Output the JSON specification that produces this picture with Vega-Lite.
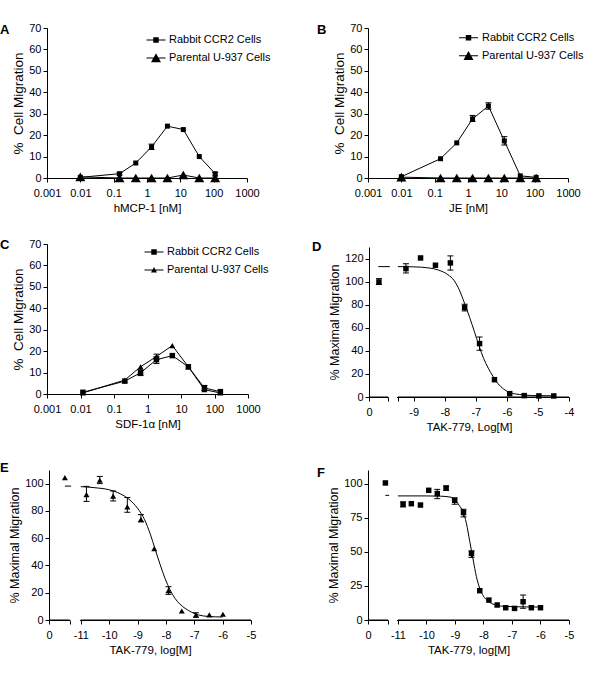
{
  "$schema": "https://vega.github.io/schema/vega-lite/v6.json",
  "autosize": {"type": "none"},
  "padding": {"left": 47, "top": 28, "right": 553, "bottom": 659},
  "background": "white",
  "config": {
    "view": {"stroke": null},
    "font": "Liberation Sans",
    "axis": {"grid": false, "domainColor": "#000", "tickColor": "#000", "labelColor": "#000", "titleColor": "#000", "labelFont": "Liberation Sans", "titleFont": "Liberation Sans", "labelFontSize": 11, "titleFontWeight": "normal", "tickSize": 4, "labelFlush": false, "labelOverlap": false, "labelBound": false},
    "axisX": {"labelPadding": 5, "titlePadding": 4, "titleFontSize": 11.5},
    "axisY": {"labelPadding": 2, "titlePadding": 3, "titleFontSize": 12.5},
    "legend": {"orient": "none", "labelFont": "Liberation Sans", "labelFontSize": 11, "labelColor": "#000", "padding": 0, "rowPadding": 6, "symbolSize": 100, "symbolStrokeWidth": 0, "symbolFillColor": "#000", "symbolOpacity": 1},
    "title": {"font": "Liberation Sans", "fontSize": 13, "fontWeight": "bold", "color": "#000", "anchor": "start", "frame": "group", "offset": 0, "baseline": "alphabetic"}
  },
  "datasets": {
    "A": [
      {"conc": 0.01, "pct": 0.3, "series": "Rabbit CCR2 Cells"},
      {"conc": 0.15, "pct": 2.0, "series": "Rabbit CCR2 Cells", "lo": 1.4, "hi": 2.6},
      {"conc": 0.46, "pct": 7.0, "series": "Rabbit CCR2 Cells"},
      {"conc": 1.37, "pct": 14.5, "series": "Rabbit CCR2 Cells", "lo": 13.3, "hi": 15.8},
      {"conc": 4.1, "pct": 24.2, "series": "Rabbit CCR2 Cells"},
      {"conc": 12.3, "pct": 22.6, "series": "Rabbit CCR2 Cells"},
      {"conc": 37, "pct": 10.0, "series": "Rabbit CCR2 Cells"},
      {"conc": 111, "pct": 2.0, "series": "Rabbit CCR2 Cells", "lo": 0.9, "hi": 2.6},
      {"conc": 0.01, "pct": 0.5, "series": "Parental U-937 Cells"},
      {"conc": 0.15, "pct": 0, "series": "Parental U-937 Cells"},
      {"conc": 0.46, "pct": 0, "series": "Parental U-937 Cells"},
      {"conc": 1.37, "pct": 0, "series": "Parental U-937 Cells"},
      {"conc": 4.1, "pct": 0, "series": "Parental U-937 Cells"},
      {"conc": 12.3, "pct": 1.4, "series": "Parental U-937 Cells"},
      {"conc": 37, "pct": 0, "series": "Parental U-937 Cells"},
      {"conc": 111, "pct": 0, "series": "Parental U-937 Cells"}
    ],
    "B": [
      {"conc": 0.01, "pct": 0.6, "series": "Rabbit CCR2 Cells"},
      {"conc": 0.15, "pct": 9.0, "series": "Rabbit CCR2 Cells"},
      {"conc": 0.46, "pct": 16.4, "series": "Rabbit CCR2 Cells"},
      {"conc": 1.37, "pct": 27.6, "series": "Rabbit CCR2 Cells", "lo": 26.4, "hi": 29.2},
      {"conc": 4.1, "pct": 33.6, "series": "Rabbit CCR2 Cells", "lo": 32.1, "hi": 35.1},
      {"conc": 12.3, "pct": 17.3, "series": "Rabbit CCR2 Cells", "lo": 15.4, "hi": 19.3},
      {"conc": 37, "pct": 1.0, "series": "Rabbit CCR2 Cells"},
      {"conc": 111, "pct": 0.3, "series": "Rabbit CCR2 Cells"},
      {"conc": 0.01, "pct": 0.4, "series": "Parental U-937 Cells"},
      {"conc": 0.15, "pct": 0, "series": "Parental U-937 Cells"},
      {"conc": 0.46, "pct": 0, "series": "Parental U-937 Cells"},
      {"conc": 1.37, "pct": 0, "series": "Parental U-937 Cells"},
      {"conc": 4.1, "pct": 0, "series": "Parental U-937 Cells"},
      {"conc": 12.3, "pct": 0, "series": "Parental U-937 Cells"},
      {"conc": 37, "pct": 0, "series": "Parental U-937 Cells"},
      {"conc": 111, "pct": 0, "series": "Parental U-937 Cells"}
    ],
    "C": [
      {"conc": 0.0118, "pct": 0.8, "series": "Rabbit CCR2 Cells"},
      {"conc": 0.21, "pct": 6.0, "series": "Rabbit CCR2 Cells"},
      {"conc": 0.62, "pct": 9.9, "series": "Rabbit CCR2 Cells", "lo": 8.6, "hi": 11.3},
      {"conc": 1.85, "pct": 16.0, "series": "Rabbit CCR2 Cells", "lo": 14.2, "hi": 17.4},
      {"conc": 5.5, "pct": 17.9, "series": "Rabbit CCR2 Cells"},
      {"conc": 16.6, "pct": 12.7, "series": "Rabbit CCR2 Cells"},
      {"conc": 50, "pct": 2.8, "series": "Rabbit CCR2 Cells", "lo": 1.6, "hi": 4.0},
      {"conc": 150, "pct": 1.1, "series": "Rabbit CCR2 Cells"},
      {"conc": 0.0118, "pct": 0.5, "series": "Parental U-937 Cells"},
      {"conc": 0.21, "pct": 6.5, "series": "Parental U-937 Cells"},
      {"conc": 0.62, "pct": 12.7, "series": "Parental U-937 Cells"},
      {"conc": 1.85, "pct": 17.5, "series": "Parental U-937 Cells", "lo": 16.2, "hi": 18.6},
      {"conc": 5.5, "pct": 22.6, "series": "Parental U-937 Cells"},
      {"conc": 16.6, "pct": 12.7, "series": "Parental U-937 Cells"},
      {"conc": 50, "pct": 2.0, "series": "Parental U-937 Cells"},
      {"conc": 150, "pct": 0.5, "series": "Parental U-937 Cells"}
    ],
    "D": [
      {"x": -10.12, "y": 99.7, "lo": 97.5, "hi": 102.6},
      {"x": -9.25, "y": 111.3, "lo": 107.5, "hi": 115.5},
      {"x": -8.78, "y": 120.5},
      {"x": -8.30, "y": 114.2},
      {"x": -7.82, "y": 116.2, "lo": 110, "hi": 122.3},
      {"x": -7.36, "y": 77.5, "lo": 74.6, "hi": 80.4},
      {"x": -6.88, "y": 46.3, "lo": 40.5, "hi": 52},
      {"x": -6.40, "y": 15.0},
      {"x": -5.91, "y": 2.9},
      {"x": -5.44, "y": 1.2},
      {"x": -4.97, "y": 0.9},
      {"x": -4.49, "y": 0.9}
    ],
    "Dcurve": [
      {"x": -9.51, "y": 113.0}, {"x": -9.0, "y": 112.8}, {"x": -8.5, "y": 111.8}, {"x": -8.2, "y": 110.0},
      {"x": -7.9, "y": 106.0}, {"x": -7.7, "y": 101.0}, {"x": -7.57, "y": 95.0}, {"x": -7.36, "y": 81.0},
      {"x": -7.2, "y": 69.0}, {"x": -7.05, "y": 57.0}, {"x": -6.9, "y": 44.5}, {"x": -6.75, "y": 33.5},
      {"x": -6.6, "y": 25.0}, {"x": -6.45, "y": 18.0}, {"x": -6.3, "y": 12.0}, {"x": -6.1, "y": 6.8},
      {"x": -5.9, "y": 3.8}, {"x": -5.6, "y": 2.2}, {"x": -5.2, "y": 1.3}, {"x": -4.49, "y": 1.0}
    ],
    "Daxis": [
      {"seg": "a", "x": -10.44, "y": 0}, {"seg": "a", "x": -9.83, "y": 0},
      {"seg": "b", "x": -9.51, "y": 0}, {"seg": "b", "x": -4, "y": 0},
      {"seg": "c", "x": -10.14, "y": 113}, {"seg": "c", "x": -9.77, "y": 113}
    ],
    "Dgap": [{"from": -9.80, "to": -9.54, "at": 0}],
    "E": [
      {"x": -11.56, "y": 104.4},
      {"x": -10.80, "y": 92, "lo": 87, "hi": 98},
      {"x": -10.33, "y": 102.5, "lo": 100, "hi": 105.3},
      {"x": -9.86, "y": 90.9, "lo": 87.3, "hi": 94.6},
      {"x": -9.36, "y": 83, "lo": 79, "hi": 89.8},
      {"x": -8.88, "y": 73.7, "lo": 71.9, "hi": 77.3},
      {"x": -8.41, "y": 52.4},
      {"x": -7.91, "y": 21.5, "lo": 18.8, "hi": 24.4},
      {"x": -7.44, "y": 6.6},
      {"x": -6.94, "y": 3.7, "lo": 2, "hi": 5.3},
      {"x": -6.47, "y": 3.7},
      {"x": -5.99, "y": 4.2}
    ],
    "Ecurve": [
      {"x": -11.0, "y": 97.8}, {"x": -10.5, "y": 97.0}, {"x": -10.0, "y": 95.5}, {"x": -9.6, "y": 92.5},
      {"x": -9.3, "y": 88.5}, {"x": -9.0, "y": 82.0}, {"x": -8.75, "y": 73.5}, {"x": -8.55, "y": 63.0},
      {"x": -8.38, "y": 52.0}, {"x": -8.2, "y": 40.5}, {"x": -8.03, "y": 30.5}, {"x": -7.85, "y": 22.0},
      {"x": -7.68, "y": 15.9}, {"x": -7.5, "y": 11.5}, {"x": -7.32, "y": 8.5}, {"x": -7.1, "y": 5.8},
      {"x": -6.85, "y": 3.7}, {"x": -6.5, "y": 2.6}, {"x": -6.0, "y": 2.2}
    ],
    "Eaxis": [
      {"seg": "a", "x": -12.12, "y": 0}, {"seg": "a", "x": -11.39, "y": 0},
      {"seg": "b", "x": -11, "y": 0}, {"seg": "b", "x": -5, "y": 0},
      {"seg": "c", "x": -11.56, "y": 98.2}, {"seg": "c", "x": -11.34, "y": 98.2}
    ],
    "Egap": [{"from": -11.36, "to": -11.03, "at": 0}],
    "F": [
      {"x": -11.44, "y": 100.5},
      {"x": -10.82, "y": 84.9, "lo": 82.9, "hi": 86.6},
      {"x": -10.53, "y": 85.3},
      {"x": -10.21, "y": 84.3},
      {"x": -9.92, "y": 95.1},
      {"x": -9.62, "y": 92.7, "lo": 89, "hi": 95.8},
      {"x": -9.31, "y": 96.8, "lo": 95.1, "hi": 98.2},
      {"x": -9.01, "y": 87.8, "lo": 84.9, "hi": 89.5},
      {"x": -8.70, "y": 78.8, "lo": 75.6, "hi": 81.2},
      {"x": -8.42, "y": 48.8, "lo": 45.9, "hi": 50.7},
      {"x": -8.13, "y": 21.5},
      {"x": -7.81, "y": 14.6},
      {"x": -7.52, "y": 11.0},
      {"x": -7.22, "y": 9.0},
      {"x": -6.91, "y": 8.5},
      {"x": -6.61, "y": 13.4, "lo": 8.6, "hi": 18.3},
      {"x": -6.32, "y": 9.0},
      {"x": -6.00, "y": 9.0}
    ],
    "Fcurve": [
      {"x": -11.0, "y": 91.0}, {"x": -10.0, "y": 91.0}, {"x": -9.5, "y": 90.8}, {"x": -9.13, "y": 90.0},
      {"x": -8.95, "y": 87.0}, {"x": -8.85, "y": 84.0}, {"x": -8.72, "y": 79.5}, {"x": -8.6, "y": 71.0},
      {"x": -8.48, "y": 57.5}, {"x": -8.36, "y": 44.0}, {"x": -8.25, "y": 32.0}, {"x": -8.13, "y": 23.2},
      {"x": -8.0, "y": 17.5}, {"x": -7.85, "y": 14.0}, {"x": -7.72, "y": 12.2}, {"x": -7.5, "y": 10.5},
      {"x": -7.25, "y": 10.0}, {"x": -6.5, "y": 9.6}, {"x": -6.0, "y": 9.5}
    ],
    "Faxis": [
      {"seg": "a", "x": -12.05, "y": 0}, {"seg": "a", "x": -11.35, "y": 0},
      {"seg": "b", "x": -11, "y": 0}, {"seg": "b", "x": -5, "y": 0},
      {"seg": "c", "x": -11.44, "y": 91.4}, {"seg": "c", "x": -11.31, "y": 91.4}
    ],
    "Fgap": [{"from": -11.32, "to": -11.03, "at": 0}]
  },
  "columns": 2,
  "spacing": {"row": 60, "column": 116},
  "bounds": "flush",
  "align": "each",
  "resolve": {"scale": {"x": "independent", "y": "independent", "shape": "independent"}, "axis": {"x": "independent", "y": "independent"}, "legend": {"shape": "independent"}},
  "concat": [
    {
      "width": 205, "height": 156,
      "title": {"text": "A", "dx": -47, "dy": 19},
      "data": {"name": "A"},
      "encoding": {
        "x": {"field": "conc", "type": "quantitative", "scale": {"type": "log", "domain": [0.001, 1000], "range": [0, 200], "nice": false}, "axis": {"values": [0.001, 0.01, 0.1, 1, 10, 100, 1000], "format": "~g", "title": "hMCP-1 [nM]", "offset": -6}},
        "y": {"field": "pct", "type": "quantitative", "scale": {"domain": [0, 70], "range": [150, 0], "nice": false}, "axis": {"values": [0, 10, 20, 30, 40, 50, 60, 70], "title": "%\u00a0 Cell Migration", "titleFontSize": 13.5}}
      },
      "layer": [
        {"transform": [{"filter": "false"}], "mark": {"type": "point", "filled": true, "color": "#000", "opacity": 1},
         "encoding": {"shape": {"field": "series", "type": "nominal", "scale": {"domain": ["Rabbit CCR2 Cells", "Parental U-937 Cells"], "range": ["M-1.9,-0.1L1.9,-0.1L1.9,0.1L-1.9,0.1Z M-0.55,-0.55L0.55,-0.55L0.55,0.55L-0.55,0.55Z", "M-1.9,-0.1L1.9,-0.1L1.9,0.1L-1.9,0.1Z M-1,0.85L0,-0.95L1,0.85Z"]}, "legend": {"title": null, "legendX": 103.5, "legendY": 6.5, "labelOffset": 7.5}}}},
        {"mark": {"type": "line", "color": "#000", "strokeWidth": 1}, "encoding": {"detail": {"field": "series"}}},
        {"transform": [{"filter": "isValid(datum.lo)"}], "mark": {"type": "rule", "color": "#000"}, "encoding": {"y": {"field": "lo", "type": "quantitative", "title": "%\u00a0 Cell Migration"}, "y2": {"field": "hi"}}},
        {"transform": [{"filter": "isValid(datum.lo)"}], "mark": {"type": "tick", "orient": "horizontal", "color": "#000", "size": 6, "thickness": 1, "opacity": 1}, "encoding": {"y": {"field": "lo", "type": "quantitative", "title": "%\u00a0 Cell Migration"}}},
        {"transform": [{"filter": "isValid(datum.hi)"}], "mark": {"type": "tick", "orient": "horizontal", "color": "#000", "size": 6, "thickness": 1, "opacity": 1}, "encoding": {"y": {"field": "hi", "type": "quantitative", "title": "%\u00a0 Cell Migration"}}},
        {"transform": [{"filter": "datum.series == 'Rabbit CCR2 Cells'"}], "mark": {"type": "square", "filled": true, "color": "#000", "size": 25, "opacity": 1}},
        {"transform": [{"filter": "datum.series == 'Parental U-937 Cells'"}], "mark": {"type": "point", "shape": "triangle-up", "filled": true, "color": "#000", "size": 100, "opacity": 1}}
      ]
    },
    {
      "width": 201, "height": 156,
      "title": {"text": "B", "dx": -51, "dy": 19},
      "data": {"name": "B"},
      "encoding": {
        "x": {"field": "conc", "type": "quantitative", "scale": {"type": "log", "domain": [0.001, 1000], "range": [0, 200], "nice": false}, "axis": {"values": [0.001, 0.01, 0.1, 1, 10, 100, 1000], "format": "~g", "title": "JE [nM]", "offset": -6}},
        "y": {"field": "pct", "type": "quantitative", "scale": {"domain": [0, 70], "range": [150, 0], "nice": false}, "axis": {"values": [0, 10, 20, 30, 40, 50, 60, 70], "title": "%\u00a0 Cell Migration", "titleFontSize": 13.5}}
      },
      "layer": [
        {"transform": [{"filter": "false"}], "mark": {"type": "point", "filled": true, "color": "#000", "opacity": 1},
         "encoding": {"shape": {"field": "series", "type": "nominal", "scale": {"domain": ["Rabbit CCR2 Cells", "Parental U-937 Cells"], "range": ["M-1.9,-0.1L1.9,-0.1L1.9,0.1L-1.9,0.1Z M-0.55,-0.55L0.55,-0.55L0.55,0.55L-0.55,0.55Z", "M-1.9,-0.1L1.9,-0.1L1.9,0.1L-1.9,0.1Z M-1,0.85L0,-0.95L1,0.85Z"]}, "legend": {"title": null, "legendX": 95, "legendY": 4.2, "labelOffset": 8}}}},
        {"mark": {"type": "line", "color": "#000", "strokeWidth": 1}, "encoding": {"detail": {"field": "series"}}},
        {"transform": [{"filter": "isValid(datum.lo)"}], "mark": {"type": "rule", "color": "#000"}, "encoding": {"y": {"field": "lo", "type": "quantitative", "title": "%\u00a0 Cell Migration"}, "y2": {"field": "hi"}}},
        {"transform": [{"filter": "isValid(datum.lo)"}], "mark": {"type": "tick", "orient": "horizontal", "color": "#000", "size": 6, "thickness": 1, "opacity": 1}, "encoding": {"y": {"field": "lo", "type": "quantitative", "title": "%\u00a0 Cell Migration"}}},
        {"transform": [{"filter": "isValid(datum.hi)"}], "mark": {"type": "tick", "orient": "horizontal", "color": "#000", "size": 6, "thickness": 1, "opacity": 1}, "encoding": {"y": {"field": "hi", "type": "quantitative", "title": "%\u00a0 Cell Migration"}}},
        {"transform": [{"filter": "datum.series == 'Rabbit CCR2 Cells'"}], "mark": {"type": "square", "filled": true, "color": "#000", "size": 25, "opacity": 1}},
        {"transform": [{"filter": "datum.series == 'Parental U-937 Cells'"}], "mark": {"type": "point", "shape": "triangle-up", "filled": true, "color": "#000", "size": 100, "opacity": 1}}
      ]
    },
    {
      "width": 205, "height": 166,
      "title": {"text": "C", "dx": -47, "dy": 18},
      "data": {"name": "C"},
      "encoding": {
        "x": {"field": "conc", "type": "quantitative", "scale": {"type": "log", "domain": [0.001, 1000], "range": [0, 201], "nice": false}, "axis": {"values": [0.001, 0.01, 0.1, 1, 10, 100, 1000], "format": "~g", "title": "SDF-1\u03b1 [nM]", "offset": -16}},
        "y": {"field": "pct", "type": "quantitative", "scale": {"domain": [0, 70], "range": [150, 0], "nice": false}, "axis": {"values": [0, 10, 20, 30, 40, 50, 60, 70], "title": "%\u00a0 Cell Migration", "titleFontSize": 13.5}}
      },
      "layer": [
        {"transform": [{"filter": "false"}], "mark": {"type": "point", "filled": true, "color": "#000", "opacity": 1},
         "encoding": {"shape": {"field": "series", "type": "nominal", "scale": {"domain": ["Rabbit CCR2 Cells", "Parental U-937 Cells"], "range": ["M-1.9,-0.1L1.9,-0.1L1.9,0.1L-1.9,0.1Z M-0.55,-0.55L0.55,-0.55L0.55,0.55L-0.55,0.55Z", "M-1.9,-0.1L1.9,-0.1L1.9,0.1L-1.9,0.1Z M-0.6,0.5L0,-0.6L0.6,0.5Z"]}, "legend": {"title": null, "legendX": 101.5, "legendY": 2.5, "labelOffset": 7.5}}}},
        {"mark": {"type": "line", "color": "#000", "strokeWidth": 1}, "encoding": {"detail": {"field": "series"}}},
        {"transform": [{"filter": "isValid(datum.lo)"}], "mark": {"type": "rule", "color": "#000"}, "encoding": {"y": {"field": "lo", "type": "quantitative", "title": "%\u00a0 Cell Migration"}, "y2": {"field": "hi"}}},
        {"transform": [{"filter": "isValid(datum.lo)"}], "mark": {"type": "tick", "orient": "horizontal", "color": "#000", "size": 6, "thickness": 1, "opacity": 1}, "encoding": {"y": {"field": "lo", "type": "quantitative", "title": "%\u00a0 Cell Migration"}}},
        {"transform": [{"filter": "isValid(datum.hi)"}], "mark": {"type": "tick", "orient": "horizontal", "color": "#000", "size": 6, "thickness": 1, "opacity": 1}, "encoding": {"y": {"field": "hi", "type": "quantitative", "title": "%\u00a0 Cell Migration"}}},
        {"transform": [{"filter": "datum.series == 'Rabbit CCR2 Cells'"}], "mark": {"type": "square", "filled": true, "color": "#000", "size": 30, "opacity": 1}},
        {"transform": [{"filter": "datum.series == 'Parental U-937 Cells'"}], "mark": {"type": "point", "shape": "triangle-up", "filled": true, "color": "#000", "size": 36, "opacity": 1}}
      ]
    },
    {
      "width": 201, "height": 166,
      "title": {"text": "D", "dx": -56, "dy": 14},
      "encoding": {
        "x": {"field": "x", "type": "quantitative", "scale": {"domain": [-10.44, -4], "range": [1, 201], "nice": false, "zero": false}, "axis": {"values": [-10.44, -9.83, -9.51, -9, -8, -7, -6, -5, -4], "labelExpr": "datum.value < -10 ? '0' : (datum.value % 1 == 0 ? '-' + abs(datum.value) : '')", "domain": true, "title": "TAK-779, Log[M]", "offset": -13}},
        "y": {"field": "y", "type": "quantitative", "scale": {"domain": [0, 130], "range": [153, 3], "nice": false}, "axis": {"values": [0, 20, 40, 60, 80, 100, 120], "title": "% Maximal Migration", "offset": -1}}
      },
      "layer": [
        {"data": {"name": "Daxis"}, "mark": {"type": "line", "color": "#000", "strokeWidth": 1}, "encoding": {"detail": {"field": "seg"}}},
        {"data": {"name": "Dgap"}, "mark": {"type": "rule", "color": "#fff", "strokeWidth": 3}, "encoding": {"x": {"field": "from", "type": "quantitative", "title": "TAK-779, Log[M]"}, "x2": {"field": "to"}, "y": {"field": "at", "type": "quantitative", "title": "% Maximal Migration"}}},
        {"data": {"name": "Dcurve"}, "mark": {"type": "line", "color": "#000", "strokeWidth": 1, "interpolate": "monotone"}},
        {"data": {"name": "D"}, "transform": [{"filter": "isValid(datum.lo)"}], "mark": {"type": "rule", "color": "#000"}, "encoding": {"y": {"field": "lo", "type": "quantitative", "title": "% Maximal Migration"}, "y2": {"field": "hi"}}},
        {"data": {"name": "D"}, "transform": [{"filter": "isValid(datum.lo)"}], "mark": {"type": "tick", "orient": "horizontal", "color": "#000", "size": 6, "thickness": 1, "opacity": 1}, "encoding": {"y": {"field": "lo", "type": "quantitative", "title": "% Maximal Migration"}}},
        {"data": {"name": "D"}, "transform": [{"filter": "isValid(datum.hi)"}], "mark": {"type": "tick", "orient": "horizontal", "color": "#000", "size": 6, "thickness": 1, "opacity": 1}, "encoding": {"y": {"field": "hi", "type": "quantitative", "title": "% Maximal Migration"}}},
        {"data": {"name": "D"}, "mark": {"type": "square", "filled": true, "color": "#000", "size": 30, "opacity": 1}}
      ]
    },
    {
      "width": 205, "height": 150,
      "title": {"text": "E", "dx": -47, "dy": 9},
      "encoding": {
        "x": {"field": "x", "type": "quantitative", "scale": {"domain": [-12.12, -5], "range": [2, 204], "nice": false, "zero": false}, "axis": {"values": [-12.12, -11.39, -11, -10, -9, -8, -7, -6, -5], "labelExpr": "datum.value < -11.5 ? '0' : (datum.value % 1 == 0 ? '-' + abs(datum.value) : '')", "domain": true, "title": "TAK-779, log[M]"}},
        "y": {"field": "y", "type": "quantitative", "scale": {"domain": [0, 110], "range": [150, 0], "nice": false}, "axis": {"values": [0, 20, 40, 60, 80, 100], "title": "% Maximal Migration", "offset": -2}}
      },
      "layer": [
        {"data": {"name": "Eaxis"}, "mark": {"type": "line", "color": "#000", "strokeWidth": 1}, "encoding": {"detail": {"field": "seg"}}},
        {"data": {"name": "Egap"}, "mark": {"type": "rule", "color": "#fff", "strokeWidth": 3}, "encoding": {"x": {"field": "from", "type": "quantitative", "title": "TAK-779, log[M]"}, "x2": {"field": "to"}, "y": {"field": "at", "type": "quantitative", "title": "% Maximal Migration"}}},
        {"data": {"name": "Ecurve"}, "mark": {"type": "line", "color": "#000", "strokeWidth": 1, "interpolate": "monotone"}},
        {"data": {"name": "E"}, "transform": [{"filter": "isValid(datum.lo)"}], "mark": {"type": "rule", "color": "#000"}, "encoding": {"y": {"field": "lo", "type": "quantitative", "title": "% Maximal Migration"}, "y2": {"field": "hi"}}},
        {"data": {"name": "E"}, "transform": [{"filter": "isValid(datum.lo)"}], "mark": {"type": "tick", "orient": "horizontal", "color": "#000", "size": 6, "thickness": 1, "opacity": 1}, "encoding": {"y": {"field": "lo", "type": "quantitative", "title": "% Maximal Migration"}}},
        {"data": {"name": "E"}, "transform": [{"filter": "isValid(datum.hi)"}], "mark": {"type": "tick", "orient": "horizontal", "color": "#000", "size": 6, "thickness": 1, "opacity": 1}, "encoding": {"y": {"field": "hi", "type": "quantitative", "title": "% Maximal Migration"}}},
        {"data": {"name": "E"}, "mark": {"type": "point", "shape": "triangle-up", "filled": true, "color": "#000", "size": 36, "opacity": 1}}
      ]
    },
    {
      "width": 201, "height": 150,
      "title": {"text": "F", "dx": -51, "dy": 14},
      "encoding": {
        "x": {"field": "x", "type": "quantitative", "scale": {"domain": [-12.05, -5], "range": [0, 201], "nice": false, "zero": false}, "axis": {"values": [-12.05, -11.35, -11, -10, -9, -8, -7, -6, -5], "labelExpr": "datum.value < -11.5 ? '0' : (datum.value % 1 == 0 ? '-' + abs(datum.value) : '')", "domain": true, "title": "TAK-779, log[M]"}},
        "y": {"field": "y", "type": "quantitative", "scale": {"domain": [0, 110], "range": [150, 0], "nice": false}, "axis": {"values": [0, 25, 50, 75, 100], "title": "% Maximal Migration"}}
      },
      "layer": [
        {"data": {"name": "Faxis"}, "mark": {"type": "line", "color": "#000", "strokeWidth": 1}, "encoding": {"detail": {"field": "seg"}}},
        {"data": {"name": "Fgap"}, "mark": {"type": "rule", "color": "#fff", "strokeWidth": 3}, "encoding": {"x": {"field": "from", "type": "quantitative", "title": "TAK-779, log[M]"}, "x2": {"field": "to"}, "y": {"field": "at", "type": "quantitative", "title": "% Maximal Migration"}}},
        {"data": {"name": "Fcurve"}, "mark": {"type": "line", "color": "#000", "strokeWidth": 1, "interpolate": "monotone"}},
        {"data": {"name": "F"}, "transform": [{"filter": "isValid(datum.lo)"}], "mark": {"type": "rule", "color": "#000"}, "encoding": {"y": {"field": "lo", "type": "quantitative", "title": "% Maximal Migration"}, "y2": {"field": "hi"}}},
        {"data": {"name": "F"}, "transform": [{"filter": "isValid(datum.lo)"}], "mark": {"type": "tick", "orient": "horizontal", "color": "#000", "size": 6, "thickness": 1, "opacity": 1}, "encoding": {"y": {"field": "lo", "type": "quantitative", "title": "% Maximal Migration"}}},
        {"data": {"name": "F"}, "transform": [{"filter": "isValid(datum.hi)"}], "mark": {"type": "tick", "orient": "horizontal", "color": "#000", "size": 6, "thickness": 1, "opacity": 1}, "encoding": {"y": {"field": "hi", "type": "quantitative", "title": "% Maximal Migration"}}},
        {"data": {"name": "F"}, "mark": {"type": "square", "filled": true, "color": "#000", "size": 30, "opacity": 1}}
      ]
    }
  ]
}
